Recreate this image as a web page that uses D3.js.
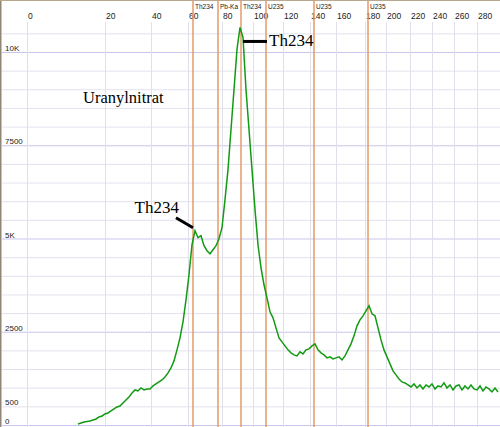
<!DOCTYPE html>
<html lang="de">
  <head>
    <meta charset="utf-8" />
    <title>Uranylnitrat</title>
    <script type="text/javascript" src="https://cdn.jsdelivr.net/npm/d3@7"></script>
    <style type="text/css">
      body { margin: 0; background: #fff; }
      svg { display: block; }
    </style>
  </head>

  <body>
    <script type="text/javascript">
      // Energie-Achse (keV) und die Kanäle, an denen sie steht
      const tickEnergies = [0, 20, 40, 60, 80, 100, 120, 140, 160, 180, 200, 220, 240, 260, 280];
      const tickChannels = [0, 78, 124, 161, 195, 226, 256, 283, 309, 338, 359, 383, 405, 427, 450];

      // Linien-Markierungen
      const markerNames = ["Th234", "Pb-Ka", "Th234", "U235", "U235", "U235"];
      const markerChannels = [166, 191, 214, 239, 287, 341];

      // Zählraten-Achse
      const countTicks = [0, 500, 2500, 5000, 7500, 10000];
      const countLabels = ["0", "500", "2500", "5K", "7500", "10K"];

      // Spektrum: ab Kanal 51, jeder dritte Kanal
      const startChannel = 51;
      const channelStep = 3;
      const counts = [
        27, 54, 81, 94, 107, 134, 161, 215, 242, 295,
        322, 376, 430, 483, 510, 591, 671, 752, 859, 940,
        913, 993, 940, 967, 967, 1047, 1101, 1155, 1208, 1289,
        1396, 1530, 1718, 2014, 2336, 2766, 3356, 4028, 4833, 5209,
        5021, 5075, 4806, 4672, 4591, 4699, 4806, 4994, 5289, 6041,
        6847, 7921, 8995, 10069, 10659, 10391, 8995, 7921, 6847, 5773,
        4833, 4215, 3759, 3410, 3034, 2873, 2604, 2336, 2229, 2121,
        2014, 1933, 1880, 1853, 1960, 1906, 2014, 2041, 2121, 2175,
        2014, 1933, 1880, 1799, 1826, 1772, 1799, 1826, 1745, 1853,
        2014, 2175, 2390, 2658, 2819, 2927, 3061, 3195, 2980, 2927,
        2604, 2282, 2014, 1826, 1638, 1450, 1343, 1235, 1155, 1128,
        1074, 1020, 1101, 993, 1074, 967, 1074, 1020, 1101, 967,
        1047, 1020, 1128, 993, 1074, 940, 1047, 1074, 940, 1047,
        967, 1074, 967, 940, 1047, 913, 1020, 967, 886, 993,
        886
      ];

      // Beschriftungen im Bild
      const notes = [
        { text: "Th234", channel: 216, count: 10283, dx: 24, dy: 0, tx: 26, ty: 5, anchor: "start" },
        { text: "Th234", channel: 166, count: 5290, dx: -17, dy: -10, tx: -14, ty: -15, anchor: "end" }
      ];

      const width = 500;
      const height = 427;

      const svg = d3
        .select("body")
        .append("svg")
        .attr("width", width)
        .attr("height", height);

      const x = d3.scaleLinear().domain([0, 472]).range([27, 499]);
      const y = d3.scaleLinear().domain([0, 10000]).range([425, 52]);

      // Hilfslinien alle 500
      svg
        .selectAll("line.minor")
        .data(d3.range(0, 11000, 500))
        .enter()
        .append("line")
        .attr("class", "minor")
        .attr("x1", 2)
        .attr("x2", width)
        .attr("y1", (d) => y(d) + 0.5)
        .attr("y2", (d) => y(d) + 0.5)
        .attr("stroke", (d) => (d % 2500 === 0 ? "#c9c6ec" : "#e3e2ed"))
        .attr("stroke-width", 1);

      // senkrechte Gitterlinien
      svg
        .selectAll("line.vgrid")
        .data(tickChannels)
        .enter()
        .append("line")
        .attr("class", "vgrid")
        .attr("x1", (d) => Math.round(x(d)) + 0.5)
        .attr("x2", (d) => Math.round(x(d)) + 0.5)
        .attr("y1", 22)
        .attr("y2", height)
        .attr("stroke", "#e0dfeb")
        .attr("stroke-width", 1);

      // Energie-Beschriftung oben
      svg
        .selectAll("text.xtick")
        .data(tickEnergies)
        .enter()
        .append("text")
        .attr("class", "xtick")
        .attr("x", (d, i) => x(tickChannels[i]) + 1)
        .attr("y", 19)
        .attr("font-family", "Liberation Sans, Arial, sans-serif")
        .attr("font-size", 8.5)
        .attr("fill", "#222")
        .text((d) => d);

      // Zählraten-Beschriftung links
      svg
        .selectAll("text.ytick")
        .data(countTicks)
        .enter()
        .append("text")
        .attr("class", "ytick")
        .attr("x", 5)
        .attr("y", (d) => y(d) - 1)
        .attr("font-family", "Liberation Sans, Arial, sans-serif")
        .attr("font-size", 8)
        .attr("fill", "#222")
        .text((d, i) => countLabels[i]);

      // orange Markierungen
      svg
        .selectAll("line.marker")
        .data(markerChannels)
        .enter()
        .append("line")
        .attr("class", "marker")
        .attr("x1", (d) => x(d))
        .attr("x2", (d) => x(d))
        .attr("y1", 1)
        .attr("y2", height)
        .attr("stroke", "#e49a68")
        .attr("stroke-width", 1.5);

      svg
        .selectAll("text.marker")
        .data(markerChannels)
        .enter()
        .append("text")
        .attr("class", "marker")
        .attr("x", (d) => x(d) + 2)
        .attr("y", 9)
        .attr("font-family", "Liberation Sans, Arial, sans-serif")
        .attr("font-size", 6.5)
        .attr("fill", "#222")
        .text((d, i) => markerNames[i]);

      // Spektrum
      const line = d3
        .line()
        .x((d, i) => x(startChannel + i * channelStep))
        .y((d) => y(d));

      svg
        .append("path")
        .datum(counts)
        .attr("d", line)
        .attr("fill", "none")
        .attr("stroke", "#139a13")
        .attr("stroke-width", 1.5);

      // Rahmen links und oben
      svg.append("line")
        .attr("x1", 0.5).attr("x2", 0.5)
        .attr("y1", 0).attr("y2", height)
        .attr("stroke", "#8f8676").attr("stroke-width", 2);
      svg.append("line")
        .attr("x1", 0).attr("x2", width)
        .attr("y1", 0.5).attr("y2", 0.5)
        .attr("stroke", "#b8a88e").attr("stroke-width", 1);

      // Text im Bild
      svg
        .append("text")
        .attr("x", 83)
        .attr("y", 103)
        .attr("font-family", "Liberation Serif, Times New Roman, serif")
        .attr("font-size", 16.5)
        .attr("fill", "#000")
        .text("Uranylnitrat");

      const note = svg
        .selectAll("g.note")
        .data(notes)
        .enter()
        .append("g")
        .attr("class", "note")
        .attr("transform", (d) => "translate(" + x(d.channel) + "," + y(d.count) + ")");

      note
        .append("line")
        .attr("x1", 0)
        .attr("y1", 0)
        .attr("x2", (d) => d.dx)
        .attr("y2", (d) => d.dy)
        .attr("stroke", "#000")
        .attr("stroke-width", 3);

      note
        .append("text")
        .attr("x", (d) => d.tx)
        .attr("y", (d) => d.ty)
        .attr("text-anchor", (d) => d.anchor)
        .attr("font-family", "Liberation Serif, Times New Roman, serif")
        .attr("font-size", 17)
        .attr("fill", "#000")
        .text((d) => d.text);
    </script>
  </body>
</html>
